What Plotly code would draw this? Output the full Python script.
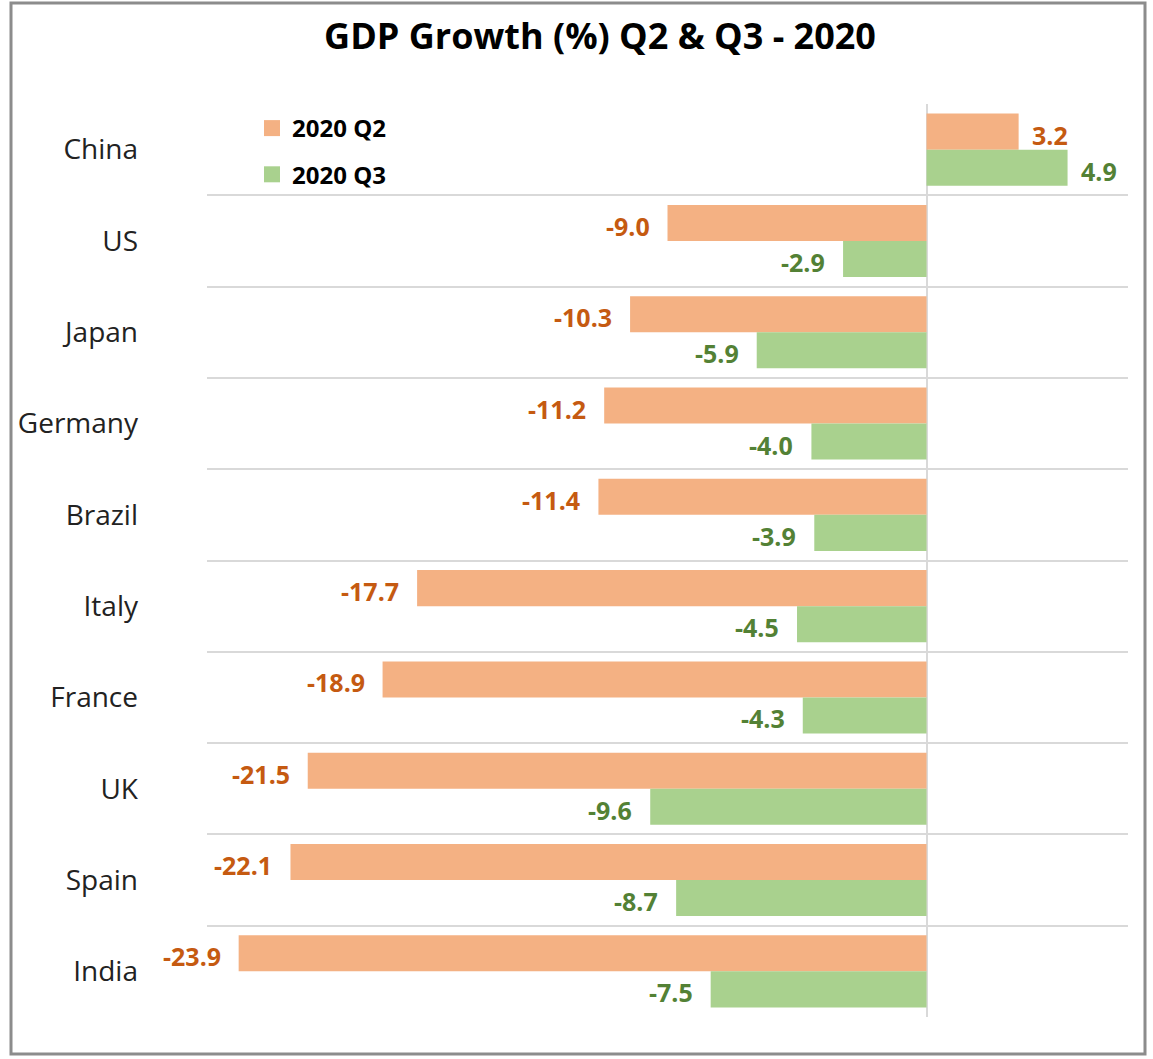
import plotly.graph_objects as go

# GDP growth by country, quarter-on-quarter (%), 2020
countries = ["China", "US", "Japan", "Germany", "Brazil", "Italy", "France", "UK", "Spain", "India"]
q2_2020 = [3.2, -9.0, -10.3, -11.2, -11.4, -17.7, -18.9, -21.5, -22.1, -23.9]
q3_2020 = [4.9, -2.9, -5.9, -4.0, -3.9, -4.5, -4.3, -9.6, -8.7, -7.5]
series_names = ["2020 Q2", "2020 Q3"]

FONT = "Open Sans"
bar_colors = ["#F4B183", "#A9D18E"]
label_colors = ["#C55A11", "#538135"]

W, H = 1153, 1059
ML, MR, MT, MB = 207, 25, 104, 42

fig = go.Figure()
for i, (name, vals, col) in enumerate(zip(series_names, [q2_2020, q3_2020], bar_colors)):
    fig.add_trace(go.Bar(
        name=name, y=countries, x=vals, orientation="h",
        marker=dict(color=col, line=dict(width=0)),
        hoverinfo="x+y", showlegend=False, legendgroup=name,
    ))
    # square legend key for the series
    fig.add_trace(go.Scatter(
        name=f"<b>{name}</b>", x=[None], y=[None], mode="markers",
        marker=dict(symbol="square", size=16, color=col),
        showlegend=True, legendgroup=name, hoverinfo="skip",
    ))

# value labels beside each bar end
annotations = []
for k, (vals, lc) in enumerate(zip([q2_2020, q3_2020], label_colors)):
    yshift = 15 if k == 0 else -21
    for c, v in zip(countries, vals):
        annotations.append(dict(
            x=v, y=c, xref="x", yref="y",
            text=f"<b>{v:.1f}</b>", showarrow=False,
            xanchor="right" if v < 0 else "left",
            xshift=-16 if v < 0 else 11, yshift=yshift,
            font=dict(family=FONT, size=25, color=lc),
        ))

fig.update_layout(
    width=W, height=H,
    margin=dict(l=ML, r=MR, t=MT, b=MB),
    paper_bgcolor="white", plot_bgcolor="white",
    barmode="group", bargap=0.21, bargroupgap=0,
    title=dict(text="<b>GDP Growth (%) Q2 & Q3 - 2020</b>", x=600 / W, xanchor="center",
               y=1 - 36 / H, yanchor="middle",
               font=dict(family=FONT, size=36, color="#000000")),
    legend=dict(x=(252 - ML) / (W - ML - MR), y=1 - (106 - MT) / (H - MT - MB),
                xanchor="left", yanchor="top", bgcolor="rgba(0,0,0,0)",
                font=dict(family=FONT, size=24, color="#000000"),
                itemwidth=30, tracegroupgap=12, traceorder="grouped"),
    xaxis=dict(range=[-25, 7], showgrid=False, showticklabels=False, ticks="",
               zeroline=True, zerolinecolor="#D9D9D9", zerolinewidth=1.5,
               showline=False, fixedrange=True),
    yaxis=dict(autorange="reversed", type="category", tickson="boundaries",
               showgrid=True, gridcolor="#D9D9D9", gridwidth=1.5, ticks="",
               ticklabelstandoff=68, showline=False,
               tickfont=dict(family=FONT, size=28, color="#222222")),
    annotations=annotations,
    font=dict(family=FONT),
)

# outer frame around the whole chart
pw, ph = W - ML - MR, H - MT - MB
fig.add_shape(type="rect", xref="paper", yref="paper",
              x0=(11 - ML) / pw, x1=(1145 - ML) / pw,
              y0=-(1054 - H + MB) / ph, y1=1 + (MT - 3) / ph,
              line=dict(color="#8C8C8C", width=3), fillcolor="rgba(0,0,0,0)", layer="below")

fig.write_html("out.html")
